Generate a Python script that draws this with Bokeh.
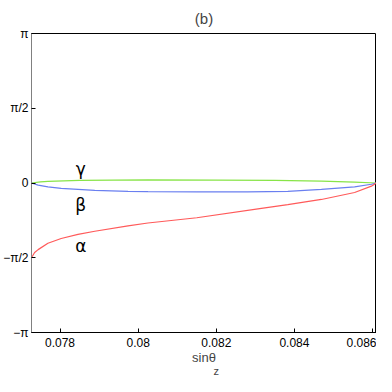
import numpy as np
from bokeh.plotting import figure
from bokeh.models import FixedTicker, LinearAxis, Range1d, Title
from bokeh.core.properties import value
from bokeh.embed import file_html
from bokeh.resources import INLINE

PI = np.pi

# data
alpha_x = [0.07727, 0.07735, 0.07744, 0.07769, 0.07803, 0.07846, 0.07889, 0.07974,
           0.08025, 0.08150, 0.08311, 0.08383, 0.08469, 0.08554, 0.08597, 0.08610]
alpha_y = [-1.571, -1.46, -1.40, -1.267, -1.167, -1.081, -1.014, -0.900,
           -0.840, -0.730, -0.540, -0.454, -0.346, -0.200, -0.066, 0.0]

beta_x = [0.07727, 0.07744, 0.07769, 0.07803, 0.07889, 0.07974, 0.08025, 0.08150,
          0.08280, 0.08383, 0.08469, 0.08554, 0.08597, 0.08610]
beta_y = [0.0, -0.046, -0.080, -0.114, -0.154, -0.174, -0.180, -0.186,
          -0.186, -0.174, -0.134, -0.080, -0.026, 0.0]

gamma_x = [0.07727, 0.07750, 0.07769, 0.07850, 0.08025, 0.08200, 0.08350, 0.08469,
           0.08554, 0.08610]
gamma_y = [0.0, 0.025, 0.034, 0.054, 0.066, 0.062, 0.054, 0.040, 0.020, 0.0]

x_ticks = [0.078, 0.080, 0.082, 0.084, 0.086]
x_tick_labels = ["0.078", "0.08", "0.082", "0.084", "0.086"]
y_ticks = [-PI, -PI / 2, 0, PI / 2, PI]
y_tick_labels = ["\u2212\u03c0", "\u2212\u03c0/2", "0", "\u03c0/2", "\u03c0"]

curve_names = ["\u03b3", "\u03b2", "\u03b1"]
name_x = [0.07853, 0.07853, 0.07853]
name_y = [0.30, -0.47, -1.33]

FONT = "Liberation Sans"

p = figure(width=376, height=376, output_backend="svg", toolbar_location=None,
           x_range=Range1d(0.07727, 0.08610), y_range=Range1d(-PI, PI),
           min_border_left=23, min_border_right=0,
           min_border_top=0, min_border_bottom=0)
p.grid.visible = False
p.outline_line_color = "black"

t = Title(text="(b)", align="center", text_font=FONT, text_font_size="15px",
          text_font_style="normal", standoff=14)
p.add_layout(t, "above")

for ax in (p.xaxis[0], p.yaxis[0]):
    ax.major_label_text_font = FONT
    ax.major_label_text_font_size = "12px"
    ax.major_label_text_color = "black"
    ax.major_tick_in = 4
    ax.major_tick_out = 0
    ax.minor_tick_line_color = None
    ax.axis_line_color = "black"
    ax.major_tick_line_color = "black"
    ax.major_label_standoff = 3

p.xaxis[0].ticker = FixedTicker(ticks=x_ticks)
p.xaxis[0].major_label_overrides = dict(zip(x_ticks, x_tick_labels))
p.xaxis[0].major_label_standoff = 5
p.yaxis[0].ticker = FixedTicker(ticks=y_ticks)
p.yaxis[0].major_label_overrides = dict(zip(y_ticks, y_tick_labels))
p.yaxis[0].axis_line_color = "#808080"
p.xaxis[0].axis_label = "sin\u03b8"
p.xaxis[0].axis_label_text_font = FONT
p.xaxis[0].axis_label_text_font_size = "13px"
p.xaxis[0].axis_label_text_font_style = "normal"
p.xaxis[0].axis_label_standoff = 0

zt = Title(text="z", align="left", offset=182, standoff=-5, vertical_align="top",
           text_font=FONT, text_font_size="11px", text_font_style="normal")
p.add_layout(zt, "below")

p.line(gamma_x, gamma_y, line_color="#88e448", line_width=1.2)
p.line(beta_x, beta_y, line_color="#6a7ff0", line_width=1.2)
p.line(alpha_x, alpha_y, line_color="#ff5a5a", line_width=1.2)

p.text(x=name_x, y=name_y, text=curve_names, text_align="center",
       text_baseline="middle", text_font=value("DejaVu Sans"),
       text_font_size="17px", text_color="black")

open("out.html", "w").write(file_html(p, INLINE))
